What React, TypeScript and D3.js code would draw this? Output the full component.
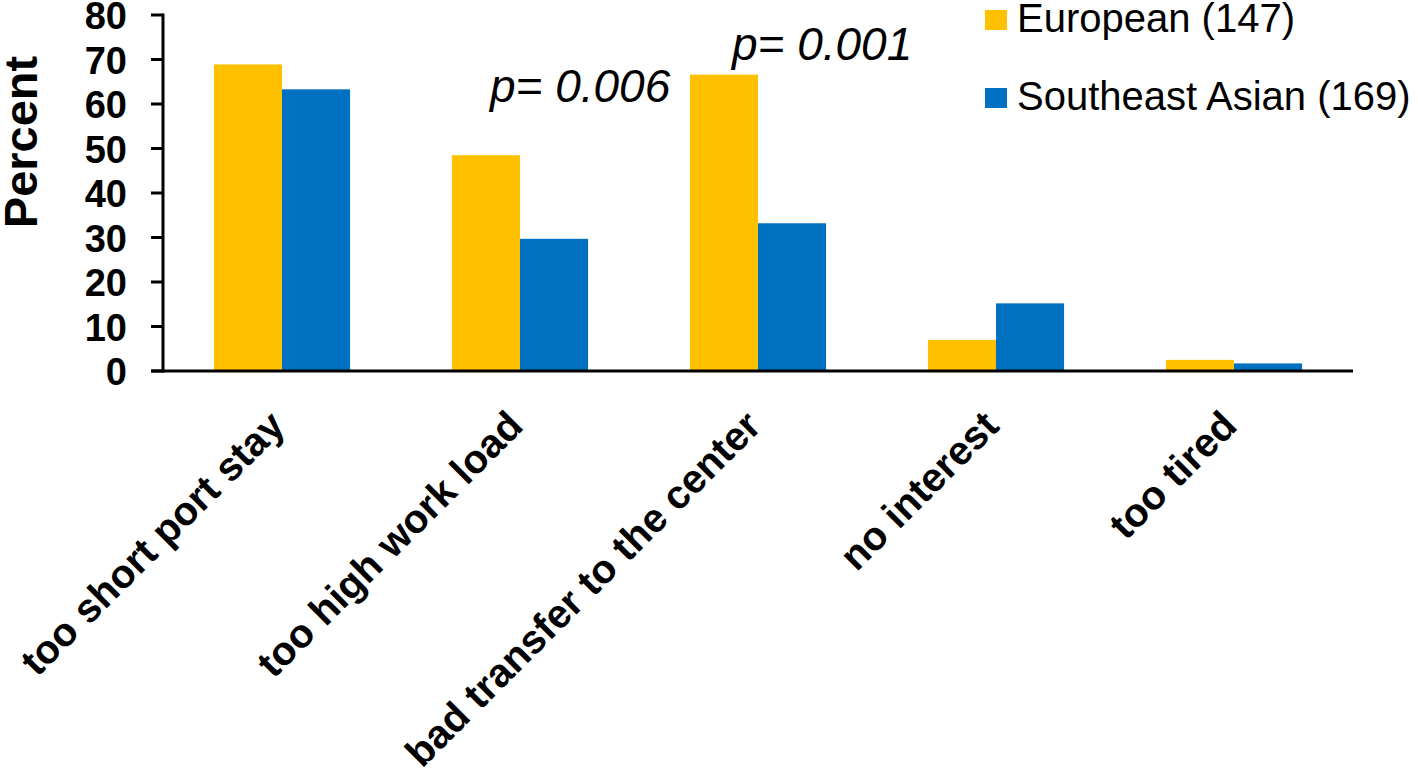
import React from "react";
import * as d3 from "d3";

const categories = [
  "too short port stay",
  "too high work load",
  "bad transfer to the center",
  "no interest",
  "too tired",
];
const seriesNames = ["European (147)", "Southeast Asian (169)"];
const europeanValues = [68.9, 48.5, 66.6, 7.0, 2.5];
const seAsianValues = [63.3, 29.7, 33.2, 15.2, 1.7];
const yTicks = [0, 10, 20, 30, 40, 50, 60, 70, 80];
const pLabels = [
  { text: "p= 0.006", category: "too high work load", value: 60.5, dx: 38 },
  { text: "p= 0.001", category: "bad transfer to the center", value: 70, dx: 42 },
];

const COLORS = ["#FFC000", "#0070C0"];
const FONT = "'Liberation Sans', Arial, Helvetica, sans-serif";

export default function App() {
  const W = 1418;
  const H = 769;
  const x0 = 163;
  const x1 = 1353;
  const yTop = 15;
  const yBottom = 371;

  const x = d3
    .scaleBand<string>()
    .domain(categories)
    .range([x0, x1])
    .paddingInner(0.428)
    .paddingOuter(0.214);
  const xs = d3.scaleBand<string>().domain(seriesNames).range([0, x.bandwidth()]);
  const y = d3.scaleLinear().domain([0, 80]).range([yBottom, yTop]);

  const series = [europeanValues, seAsianValues];

  return (
    <svg
      width={W}
      height={H}
      style={{ position: "absolute", left: 0, top: 0, background: "#fff" }}
      fontFamily={FONT}
    >
      {/* bars */}
      {series.map((vals, si) =>
        categories.map((c, ci) => (
          <rect
            key={`${si}-${ci}`}
            x={(x(c) as number) + (xs(seriesNames[si]) as number)}
            y={y(vals[ci])}
            width={xs.bandwidth()}
            height={y(0) - y(vals[ci])}
            fill={COLORS[si]}
          />
        ))
      )}

      {/* y axis */}
      <line x1={x0} x2={x0} y1={y(80) - 1.5} y2={y(0) + 1.5} stroke="#000" strokeWidth={3} />
      {yTicks.map((t) => (
        <g key={t}>
          <line x1={x0 - 12} x2={x0} y1={y(t)} y2={y(t)} stroke="#000" strokeWidth={3} />
          <text
            x={127}
            y={y(t) + 1}
            textAnchor="end"
            dominantBaseline="central"
            fontSize={38}
            fontWeight="bold"
          >
            {t}
          </text>
        </g>
      ))}
      {/* x axis */}
      <line x1={x0 - 12} x2={x1} y1={y(0)} y2={y(0)} stroke="#000" strokeWidth={3} />

      {/* category labels */}
      {categories.map((c) => {
        const cx = (x(c) as number) + x.bandwidth() / 2 + 5;
        const cy = 428;
        return (
          <text
            key={c}
            transform={`translate(${cx},${cy}) rotate(-45)`}
            textAnchor="end"
            fontSize={40}
            fontWeight="bold"
          >
            {c}
          </text>
        );
      })}

      {/* y title */}
      <text
        transform={`translate(37,${(y(80) + y(0)) / 2 - 51}) rotate(-90)`}
        textAnchor="middle"
        fontSize={47}
        fontWeight="bold"
      >
        Percent
      </text>

      {/* p-values */}
      {pLabels.map((p) => (
        <text
          key={p.text}
          x={(x(p.category) as number) + p.dx}
          y={y(p.value)}
          fontSize={46}
          fontStyle="italic"
        >
          {p.text}
        </text>
      ))}

      {/* legend */}
      {seriesNames.map((s, i) => (
        <g key={s} transform={`translate(985,${10 + i * 78})`}>
          <rect x={0} y={0} width={22} height={20} fill={COLORS[i]} />
          <text x={32} y={22} fontSize={40}>
            {s}
          </text>
        </g>
      ))}
    </svg>
  );
}
